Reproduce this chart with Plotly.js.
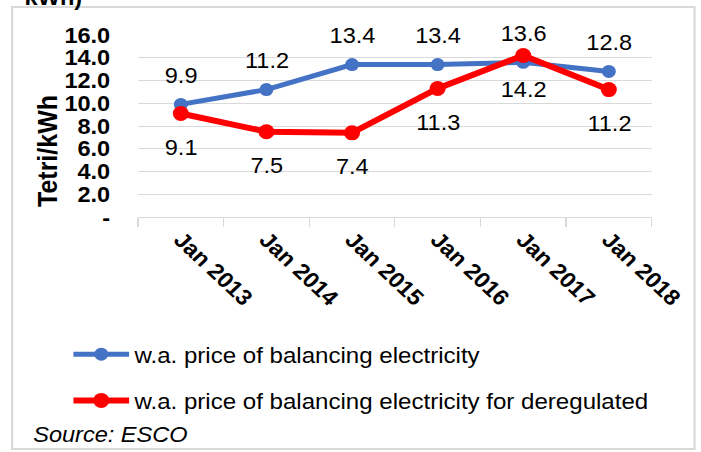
<!DOCTYPE html>
<html>
<head>
<meta charset="utf-8">
<script src="https://cdn.plot.ly/plotly-3.0.1.min.js"></script>
<style>
  html, body { margin: 0; padding: 0; background: #fff; overflow: hidden; }
  #frame { width: 701px; height: 452px; overflow: hidden; }
  /* the chart is laid out slightly narrower and widened to fill the frame */
  #chart { transform-origin: 0 0; }
</style>
</head>
<body>
<div id="frame"><div id="chart"></div></div>
<script>
// Weighted average price of balancing electricity, tetri per kWh
const periods = ["Jan 2013", "Jan 2014", "Jan 2015", "Jan 2016", "Jan 2017", "Jan 2018"];
const balancingPrice = [9.9, 11.2, 13.4, 13.4, 13.6, 12.8];
const deregulatedPrice = [9.1, 7.5, 7.4, 11.3, 14.2, 11.2];
const yTickValues = [0, 2, 4, 6, 8, 10, 12, 14, 16];
const yTickLabels = ["-", "2.0", "4.0", "6.0", "8.0", "10.0", "12.0", "14.0", "16.0"];

const BLUE = "#4472C4";
const RED = "#FF0000";
const GRID = "#d9d9d9";
const FONT = "Liberation Sans, Arial, sans-serif";

// Horizontal widening factor applied to the whole figure
const S = 1.07;
const W = 701, H = 452;
const CW = W / S;             // layout width before widening
const sx = x => x / S;        // frame x -> layout x

// Plot area in frame pixels
const L = 138, R = 652, T = 35, B = 217;
const px = x => (sx(x) - sx(L)) / (sx(R) - sx(L));
const py = y => (B - y) / (B - T);

document.getElementById("chart").style.transform = "scaleX(" + S + ")";

const traces = [
  {
    x: periods, y: balancingPrice, type: "scatter", mode: "lines+markers",
    name: "w.a. price of balancing electricity",
    line: { color: BLUE, width: 5 },
    marker: { color: BLUE, size: 13 },
    legendgroup: "a", hoverinfo: "skip"
  },
  {
    x: periods, y: deregulatedPrice, type: "scatter", mode: "lines+markers",
    name: "w.a. price of balancing electricity for deregulated",
    line: { color: RED, width: 6 },
    marker: { color: RED, size: 15 },
    legendgroup: "b", hoverinfo: "skip"
  }
];

// Value labels: blue above its point, red below
const annotations = [];
periods.forEach((p, i) => {
  annotations.push({
    x: p, y: balancingPrice[i], xref: "x", yref: "y",
    text: balancingPrice[i].toFixed(1), showarrow: false,
    yshift: 29, font: { family: FONT, size: 22, color: "#000" }
  });
  annotations.push({
    x: p, y: deregulatedPrice[i], xref: "x", yref: "y",
    text: deregulatedPrice[i].toFixed(1), showarrow: false,
    yshift: -34, font: { family: FONT, size: 22, color: "#000" }
  });
});

// Axis title
annotations.push({
  xref: "paper", yref: "paper", x: px(47), y: py(151),
  text: "<b>Tetri/kWh</b>", textangle: -90, showarrow: false,
  xanchor: "center", yanchor: "middle",
  font: { family: FONT, size: 25, color: "#000" }
});
// Tail of the heading line above the chart
annotations.push({
  xref: "paper", yref: "paper", x: px(22), y: py(12),
  text: "<b>kWh)</b>", showarrow: false,
  xanchor: "left", yanchor: "bottom",
  font: { family: FONT, size: 22, color: "#000" }
});
// Source note
annotations.push({
  xref: "paper", yref: "paper", x: px(31), y: py(434),
  text: "<i>Source: ESCO</i>", showarrow: false,
  xanchor: "left", yanchor: "middle",
  font: { family: FONT, size: 22, color: "#000" }
});

const layout = {
  width: CW, height: H,
  margin: { l: sx(L), r: CW - sx(R), t: T, b: H - B, pad: 0 },
  paper_bgcolor: "#fff", plot_bgcolor: "#fff",
  font: { family: FONT, color: "#000" },
  showlegend: true,
  legend: {
    x: px(68), y: py(333), xanchor: "left", yanchor: "top",
    orientation: "v", traceorder: "grouped", tracegroupgap: 14,
    itemwidth: 52,
    font: { family: FONT, size: 22.5, color: "#000" },
    bgcolor: "rgba(0,0,0,0)"
  },
  xaxis: {
    type: "category", range: [-0.5, 5.5], fixedrange: true,
    showgrid: false, zeroline: false,
    showline: true, linecolor: GRID, linewidth: 1,
    ticks: "outside", tickcolor: GRID, ticklen: 9, tickson: "boundaries",
    tickangle: 45,
    tickfont: { family: FONT, size: 22, color: "#000", weight: "bold" }
  },
  yaxis: {
    range: [0, 16], fixedrange: true,
    tickvals: yTickValues, ticktext: yTickLabels,
    showgrid: true, gridcolor: GRID, gridwidth: 1,
    zeroline: false, showline: false, ticks: "",
    ticklabelstandoff: 25,
    tickfont: { family: FONT, size: 22, color: "#000", weight: "bold" }
  },
  shapes: [{
    type: "rect", xref: "paper", yref: "paper",
    x0: px(12), x1: px(695), y0: py(449), y1: py(7),
    line: { color: GRID, width: 2 }, fillcolor: "rgba(0,0,0,0)", layer: "below"
  }],
  annotations: annotations
};

Plotly.newPlot("chart", traces, layout, { displayModeBar: false, staticPlot: true });
</script>
</body>
</html>
